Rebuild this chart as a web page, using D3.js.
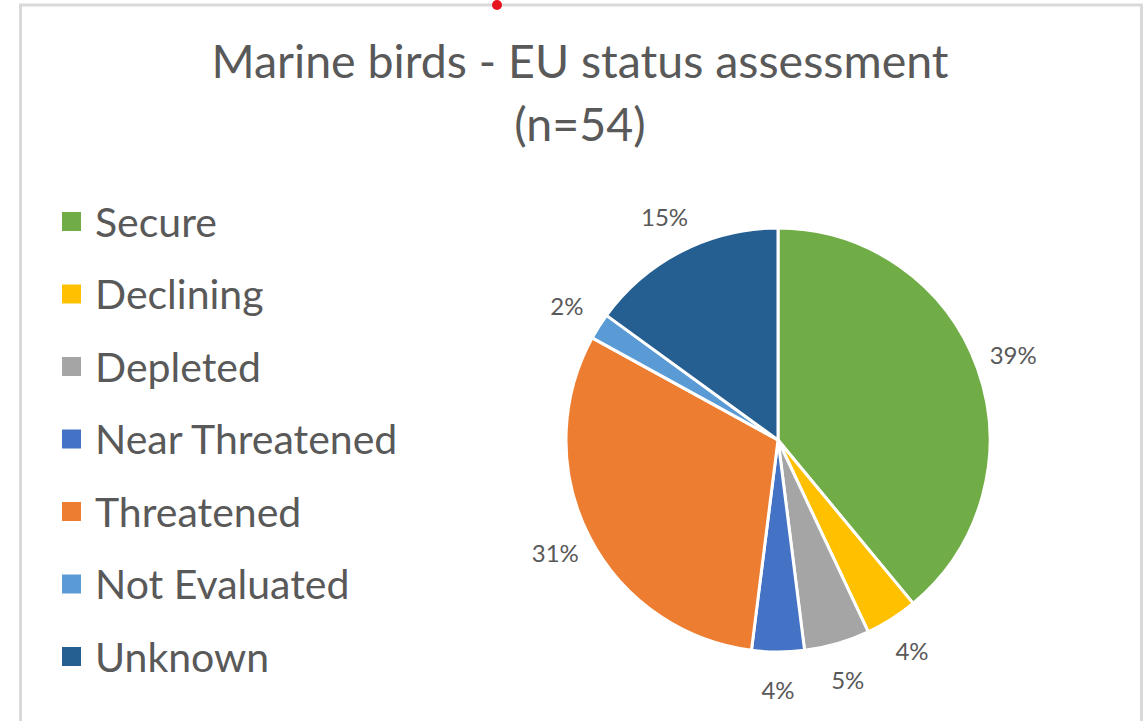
<!DOCTYPE html>
<html>
<head>
<meta charset="utf-8">
<script src="https://cdn.jsdelivr.net/npm/d3@7"></script>
<style>
  html, body { margin: 0; padding: 0; background: #ffffff; }
  svg { display: block; }
</style>
</head>
<body>
<div id="chart"></div>
<script>
// data
const categories = ['Secure', 'Declining', 'Depleted', 'Near Threatened', 'Threatened', 'Not Evaluated', 'Unknown'];
const shares = [39, 4, 5, 4, 31, 2, 15];
const sliceColors = ['#70AD47', '#FFC000', '#A5A5A5', '#4472C4', '#ED7D31', '#5B9BD5', '#255E91'];
const titleLines = ['Marine birds - EU status assessment', '(n=54)'];

const width = 1148, height = 721;
const textColor = '#595959';
const font = 'Lato, "Noto Sans", sans-serif';

var svg = d3.select('#chart').append('svg')
    .attr('width', width)
    .attr('height', height)
    .attr('viewBox', '0 0 ' + width + ' ' + height);

// chart frame (bottom edge is cut off in the screenshot)
svg.append('path')
    .attr('d', 'M20.5,' + height + ' V5 H1141.5 V' + height)
    .attr('fill', 'none')
    .attr('stroke', '#d9d9d9')
    .attr('stroke-width', 3);

svg.append('circle')
    .attr('cx', 497).attr('cy', 5).attr('r', 5)
    .attr('fill', '#e8141b');

// title
svg.append('text')
    .attr('x', 580)
    .attr('y', 78)
    .attr('text-anchor', 'middle')
    .style('font-family', font)
    .style('font-size', '46.5px')
    .style('fill', textColor)
    .selectAll('tspan')
    .data(titleLines)
    .enter()
    .append('tspan')
    .attr('x', 580)
    .attr('dy', (d, i) => i === 0 ? 0 : 63)
    .text(d => d);

// legend
var color = d3.scaleOrdinal().domain(categories).range(sliceColors);
var legendY = d3.scalePoint().domain(categories).range([222, 657]);

var legend = svg.append('g').attr('class', 'legend')
    .selectAll('g')
    .data(categories)
    .enter()
    .append('g')
    .attr('transform', d => 'translate(0,' + legendY(d) + ')');

legend.append('rect')
    .attr('x', 62).attr('y', -10)
    .attr('width', 19).attr('height', 19)
    .attr('fill', d => color(d));

legend.append('text')
    .attr('x', 95)
    .attr('y', 0)
    .attr('dy', '0.36em')
    .style('font-family', font)
    .style('font-size', '41px')
    .style('fill', textColor)
    .text(d => d);

// pie
var cx = 778, cy = 440, radius = 212, labelRadius = 250;

var pie = d3.pie().sort(null).value(d => d.value);
var arcs = pie(categories.map((c, i) => ({ name: c, value: shares[i] })));

var arc = d3.arc().innerRadius(0).outerRadius(radius);
var labelArc = d3.arc().innerRadius(labelRadius).outerRadius(labelRadius);

var g = svg.append('g').attr('transform', 'translate(' + cx + ',' + cy + ')');

g.selectAll('path')
    .data(arcs)
    .enter()
    .append('path')
    .attr('d', arc)
    .attr('fill', d => color(d.data.name))
    .attr('stroke', '#ffffff')
    .attr('stroke-width', 3)
    .attr('stroke-linejoin', 'round');

g.selectAll('text')
    .data(arcs)
    .enter()
    .append('text')
    .attr('transform', d => 'translate(' + labelArc.centroid(d) + ')')
    .attr('text-anchor', 'middle')
    .attr('dy', '0.36em')
    .style('font-family', font)
    .style('font-size', '24px')
    .style('fill', textColor)
    .text(d => d.data.value + '%');
</script>
</body>
</html>
